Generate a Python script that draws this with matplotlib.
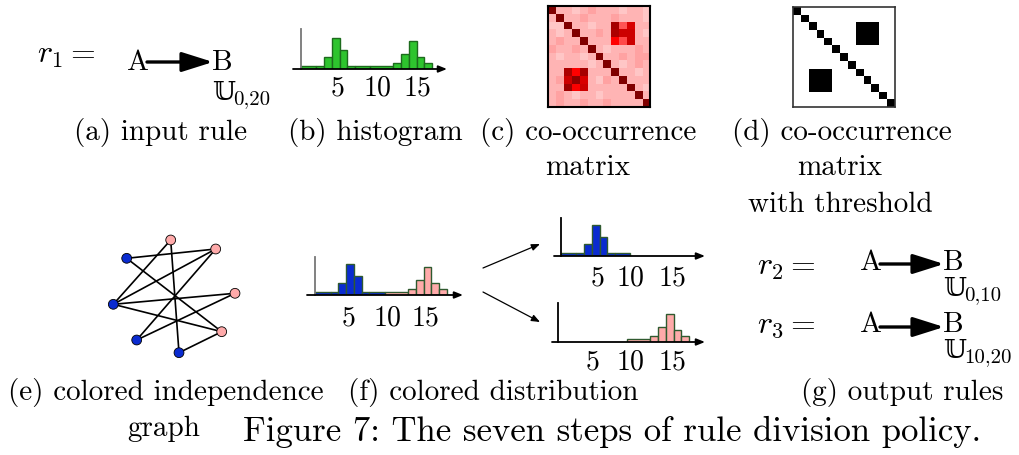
import matplotlib
matplotlib.use('Agg')
import matplotlib.pyplot as plt
from matplotlib.colors import LinearSegmentedColormap, ListedColormap
import numpy as np

plt.rcParams['font.family'] = 'cmr10'
plt.rcParams['mathtext.fontset'] = 'cm'
plt.rcParams['axes.unicode_minus'] = False

W, H = 1019, 455

# histogram of B, variable width bins
bin_edges = [0, 2, 3, 4, 5, 6, 7, 9, 12, 13, 14, 15, 16, 17]
bin_counts = [1.0, 1.0, 3.7, 9.3, 5.6, 1.0, 1.0, 1.0, 1.8, 4.6, 8.3, 3.7, 1.8]
# which output rule each bin goes to (0 -> r2, 1 -> r3)
bin_group = [0, 0, 0, 0, 0, 0, 0, 1, 1, 1, 1, 1, 1]
tick_labels = ['5', '10', '15']

# bin co-occurrence matrix
L, P, D = 0.06, 0.15, 0.26
cooc = [
    [1.0, P, P, L, P, D, P, P, P, L, P, P, L],
    [P, 1.0, P, P, D, P, P, P, D, P, P, P, L],
    [L, L, 1.0, P, P, L, P, P, 0.9, 0.45, 0.75, P, P],
    [P, L, P, 1.0, P, P, D, P, 0.88, 0.8, 0.8, P, L],
    [P, D, P, P, 1.0, P, P, P, 0.6, 0.47, 0.8, P, P],
    [D, P, P, D, P, 1.0, P, L, P, P, P, D, P],
    [P, L, P, P, L, P, 1.0, P, P, D, P, D, D],
    [P, P, P, P, P, L, P, 1.0, P, L, P, D, P],
    [P, P, 0.88, 0.6, 0.9, P, P, P, 1.0, P, P, L, P],
    [P, D, 0.8, 0.95, 0.75, P, L, D, P, 1.0, P, P, P],
    [P, P, 0.92, 0.62, 0.8, P, P, P, P, P, 1.0, P, L],
    [P, D, P, L, P, P, L, P, P, P, P, 1.0, P],
    [P, D, P, P, D, P, P, D, P, P, P, P, 1.0],
]
threshold = 0.4

# independence graph: node layout (px), colour group, edges
node_x = [126.7, 113.3, 136.7, 179.0, 170.7, 215.7, 235.0, 221.7]
node_y = [258.3, 304.3, 340.0, 352.7, 240.0, 249.0, 293.3, 331.7]
node_group = [0, 0, 0, 0, 1, 1, 1, 1]
edges = [(0, 5), (0, 7), (1, 4), (1, 5), (1, 6), (1, 7), (2, 5), (2, 6), (3, 4), (3, 7)]

# rules: name, lower bound, upper bound
rule_names = ['r_1', 'r_2', 'r_3']
rule_bounds = [('0', '20'), ('0', '10'), ('10', '20')]

green, green_edge = '#2ec42e', '#1d6b1d'
blue, pink, split_edge = '#0a2bd0', '#ffaaaa', '#2f5a2f'
cmap = LinearSegmentedColormap.from_list('cooc', [
    (0.0, '#ffd2d2'), (0.15, '#ffb4b4'), (0.3, '#ff9c9c'), (0.45, '#ff5555'),
    (0.6, '#ff0000'), (0.8, '#cc0000'), (1.0, '#800000')])

FS = 21


def px_axes(fig, x0, y0, x1, y1):
    return fig.add_axes([x0 / W, 1 - y1 / H, (x1 - x0) / W, (y1 - y0) / H])


def hist_panel(fig, ox, by, unit, xs, xe, yt, bins, colors, ycolor):
    ax = px_axes(fig, xs, yt, xe, by)
    ax.set_xlim((xs - ox) / unit, (xe - ox) / unit)
    ax.set_ylim(0, (by - yt) / 3.33)
    ax.axis('off')
    edges_arr = np.array(bin_edges, dtype=float)
    for i in bins:
        ax.bar(edges_arr[i], bin_counts[i], width=edges_arr[i + 1] - edges_arr[i],
               align='edge', color=colors[i], edgecolor=colors[-1], linewidth=1.0)
    xl = ax.get_xlim()
    ax.annotate('', xy=(xl[1], 0), xytext=(xl[0], 0),
                arrowprops=dict(arrowstyle='-|>,head_length=0.5,head_width=0.2',
                                lw=1.3, color='black', shrinkA=0, shrinkB=0,
                                mutation_scale=10), annotation_clip=False)
    ax.plot([0, 0], [0, ax.get_ylim()[1]], color=ycolor, lw=1.3, clip_on=False)
    return ax


fig = plt.figure(figsize=(W / 100, H / 100), dpi=100)
over = fig.add_axes([0, 0, 1, 1])
over.set_xlim(0, W)
over.set_ylim(H, 0)
over.axis('off')

# histograms
n = len(bin_counts)
all_bins = list(range(n))
g_cols = [green] * n + [green_edge]
f_cols = [blue if g == 0 else pink for g in bin_group] + [split_edge]
hist_panel(fig, 301, 69, 7.7, 293, 447, 29, all_bins, g_cols, '#777777')
hist_panel(fig, 315, 295, 7.75, 307, 463, 257, all_bins, f_cols, '#777777')
hist_panel(fig, 561, 256, 7.7, 554, 705, 218,
           [i for i in all_bins if bin_group[i] == 0], f_cols, 'black')
hist_panel(fig, 558, 342, 7.7, 552, 705, 303,
           [i for i in all_bins if bin_group[i] == 1], f_cols, 'black')

for xs_lab, yb in [((338, 377, 417), 95), ((349, 387, 425), 326),
                   ((598, 630, 672), 285), ((593, 630, 672), 370)]:
    for x, t in zip(xs_lab, tick_labels):
        over.text(x, yb, t, ha='center', va='baseline', fontsize=20)

# co-occurrence matrices
m = np.array(cooc)
axc = px_axes(fig, 548, 6, 650, 107)
axc.imshow(m, cmap=cmap, vmin=0, vmax=1, interpolation='nearest', aspect='auto')
axc.set_xticks([])
axc.set_yticks([])
for s in axc.spines.values():
    s.set_linewidth(1.5)

axd = px_axes(fig, 793, 7, 895, 107)
axd.imshow(m > threshold, cmap=ListedColormap(['white', 'black']), vmin=0, vmax=1,
           interpolation='nearest', aspect='auto')
axd.set_xticks([])
axd.set_yticks([])
for s in axd.spines.values():
    s.set_linewidth(1.2)
    s.set_color('#333333')

# independence graph
for a, b in edges:
    over.plot([node_x[a], node_x[b]], [node_y[a], node_y[b]], color='black', lw=1.2, zorder=2)
over.scatter(node_x, node_y, s=50, c=[blue if g == 0 else pink for g in node_group],
             edgecolors='black', linewidths=0.6, zorder=3)

# split arrows
for y0, y1 in [(268, 244), (292, 322)]:
    over.annotate('', xy=(540, y1), xytext=(483, y0),
                  arrowprops=dict(arrowstyle='-|>,head_length=0.5,head_width=0.2',
                                  lw=0.9, color='black', shrinkA=0, shrinkB=0,
                                  mutation_scale=10))


def rule(k, x_lab, y_lab, x_a, y_ab, x_b, y_arrow, y_dist):
    lo, hi = rule_bounds[k]
    over.text(x_lab, y_lab, '$%s =$' % rule_names[k], fontsize=23, va='baseline')
    over.text(x_a, y_ab, 'A', fontsize=FS, va='baseline')
    over.text(x_b, y_ab, 'B', fontsize=FS, va='baseline')
    over.annotate('', xy=(x_b + 1, y_arrow), xytext=(x_a + 20, y_arrow),
                  arrowprops=dict(arrowstyle='-|>,head_length=1.9,head_width=0.6',
                                  lw=2.4, color='black', shrinkA=0, shrinkB=0,
                                  mutation_scale=10))
    over.text(x_b, y_dist, '\U0001D54C', fontsize=19, va='baseline',
              family=['DejaVu Sans', 'DejaVu Serif'], fontweight='light')
    over.text(x_b + 21, y_dist + 4, lo + ',' + hi, fontsize=15, va='baseline')


rule(0, 37, 63, 127, 70, 212, 62, 100)
rule(1, 757, 275, 860, 270, 943, 264, 296)
rule(2, 757, 333, 860, 332, 943, 327, 358)

# captions
captions = [
    (161, 140, '(a) input rule'), (375, 140, '(b) histogram'),
    (588, 140, '(c) co-occurrence'), (588, 175, 'matrix'),
    (842, 140, '(d) co-occurrence'), (840, 175, 'matrix'), (840, 212, 'with threshold'),
    (166, 400, '(e) colored independence'), (164, 436, 'graph'),
    (493, 400, '(f) colored distribution'), (902, 400, '(g) output rules'),
]
for x, y, t in captions:
    over.text(x, y, t, ha='center', va='baseline', fontsize=FS)
over.text(612, 441, 'Figure 7: The seven steps of rule division policy.',
          ha='center', va='baseline', fontsize=25)

fig.savefig('out.png', dpi=100)
